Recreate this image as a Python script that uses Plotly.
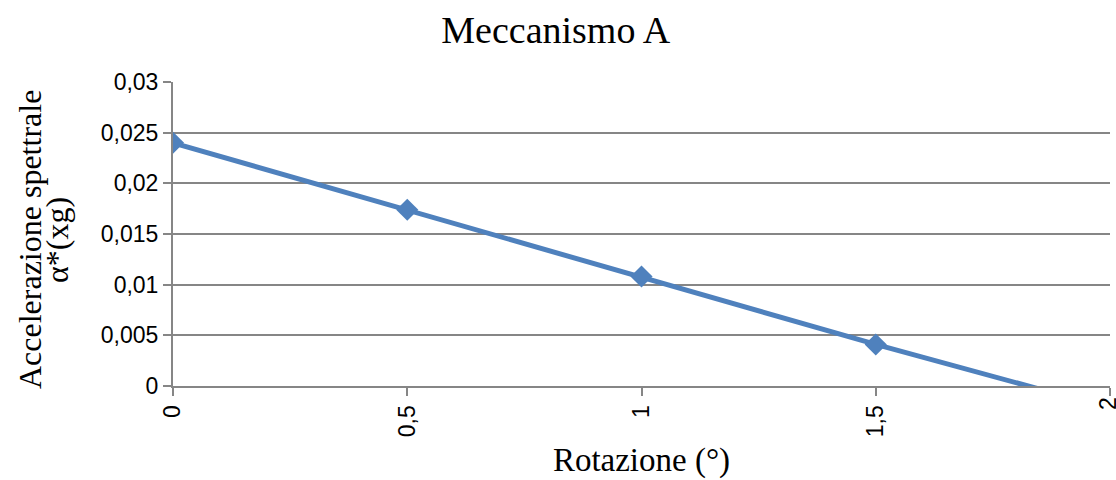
import plotly.graph_objects as go

rotazione = [0, 0.5, 1, 1.5, 2]
accelerazione = [0.024, 0.0174, 0.0108, 0.0041, -0.0022]
x_ticks = [0, 0.5, 1, 1.5, 2]
x_labels = ["0", "0,5", "1", "1,5", "2"]
y_ticks = [0, 0.005, 0.01, 0.015, 0.02, 0.025, 0.03]
y_labels = ["0", "0,005", "0,01", "0,015", "0,02", "0,025", "0,03"]

SERIF = "Liberation Serif"
SANS = "Liberation Sans"

fig = go.Figure(go.Scatter(
    x=rotazione, y=accelerazione, mode="lines+markers",
    line=dict(color="#4F81BD", width=5),
    marker=dict(symbol="diamond", size=17, color="#4F81BD"),
    cliponaxis=True,
))

fig.update_layout(
    width=1116, height=480,
    margin=dict(l=173, r=6, t=82, b=94),
    paper_bgcolor="white", plot_bgcolor="white",
    showlegend=False,
    title=dict(text="Meccanismo A", x=0.498, xanchor="center", y=0.9375, yanchor="middle",
               font=dict(family=SERIF, size=38, color="black")),
    xaxis=dict(range=[0, 2], tickvals=x_ticks, ticktext=x_labels, tickangle=-90,
               showgrid=False, zeroline=False, showline=True, linecolor="#868686", linewidth=2,
               ticks="outside", ticklen=8, tickcolor="#868686", tickwidth=2,
               tickfont=dict(family=SANS, size=23, color="black"),
               title=dict(text="Rotazione (°)", font=dict(family=SERIF, size=33, color="black"), standoff=12)),
    yaxis=dict(range=[0, 0.03], tickvals=y_ticks, ticktext=y_labels,
               showgrid=True, gridcolor="#868686", gridwidth=2, zeroline=False,
               showline=True, linecolor="#868686", linewidth=2,
               ticks="outside", ticklen=8, tickcolor="#868686", tickwidth=2,
               tickfont=dict(family=SANS, size=23, color="black")),
    annotations=[
        dict(text="Accelerazione spettrale", xref="paper", yref="paper", x=0, y=0.5,
             xshift=-173 + 30, yshift=-6, xanchor="center", yanchor="middle", textangle=-90,
             showarrow=False, font=dict(family=SERIF, size=32, color="black")),
        dict(text="α*(xg)", xref="paper", yref="paper", x=0, y=0.5,
             xshift=-173 + 57, yshift=-6, xanchor="center", yanchor="middle", textangle=-90,
             showarrow=False, font=dict(family=SERIF, size=32, color="black")),
        dict(text="2", xref="x", yref="paper", x=2, y=0, yshift=-18, xshift=-2,
             xanchor="center", yanchor="middle", textangle=-90, showarrow=False,
             font=dict(family=SANS, size=23, color="black")),
    ],
)

fig.write_html("out.html")
